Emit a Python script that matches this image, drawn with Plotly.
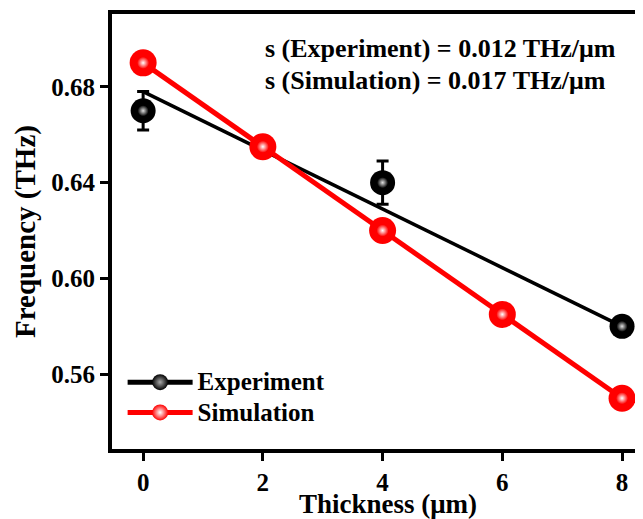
import plotly.graph_objects as go

# ---- data ----
exp_x = [0, 4, 8]
exp_y = [0.670, 0.640, 0.580]
exp_err = [0.008, 0.009, 0.002]

fit_x = [0, 8]
fit_y = [0.678, 0.580]

sim_x = [0, 2, 4, 6, 8]
sim_y = [0.690, 0.655, 0.620, 0.585, 0.550]

x_ticks = [0, 2, 4, 6, 8]
y_ticks = [0.56, 0.60, 0.64, 0.68]
y_ticklabels = ["0.56", "0.60", "0.64", "0.68"]

series_names = ["Experiment", "Simulation"]
x_title = "Thickness (μm)"
y_title = "Frequency (THz)"
ann1 = "s (Experiment) = 0.012 THz/μm"
ann2 = "s (Simulation) = 0.017 THz/μm"

FONT = "Liberation Serif, Times New Roman, serif"
RED = "#ff0000"


def big(txt, px=25):
    return "<span style='font-size:%dpx'>%s</span>" % (px, txt)


fig = go.Figure()

# experiment fit line
fig.add_trace(go.Scatter(x=fit_x, y=fit_y, mode="lines",
                         line=dict(color="black", width=3.5),
                         showlegend=False, hoverinfo="skip"))
# experiment markers with error bars
fig.add_trace(go.Scatter(x=exp_x, y=exp_y, mode="markers",
                         marker=dict(symbol="circle", size=25, color="black",
                                     line=dict(width=0)),
                         error_y=dict(type="data", array=exp_err, visible=True,
                                      color="black", thickness=3, width=6),
                         showlegend=False))
fig.add_trace(go.Scatter(x=exp_x, y=exp_y, mode="markers",
                         marker=dict(symbol="circle", size=11, color="black",
                                     gradient=dict(type="radial", color="#e0e0e0"),
                                     line=dict(width=0)),
                         showlegend=False, hoverinfo="skip"))
# simulation
fig.add_trace(go.Scatter(x=sim_x, y=sim_y, mode="lines+markers",
                         line=dict(color=RED, width=5),
                         marker=dict(symbol="circle", size=27, color=RED,
                                     line=dict(width=0)),
                         showlegend=False))
fig.add_trace(go.Scatter(x=sim_x, y=sim_y, mode="markers",
                         marker=dict(symbol="circle", size=12, color=RED,
                                     gradient=dict(type="radial", color="#ffffff"),
                                     line=dict(width=0)),
                         showlegend=False, hoverinfo="skip"))

# legend-only entries
fig.add_trace(go.Scatter(x=[None], y=[None], mode="lines+markers", name=big(series_names[0]),
                         line=dict(color="black", width=5),
                         marker=dict(symbol="circle", size=18, color="black",
                                     gradient=dict(type="radial", color="#aaaaaa"))))
fig.add_trace(go.Scatter(x=[None], y=[None], mode="lines+markers", name=big(series_names[1]),
                         line=dict(color=RED, width=5),
                         marker=dict(symbol="circle", size=18, color=RED,
                                     gradient=dict(type="radial", color="#ffffff"))))

fig.update_layout(
    width=635, height=511,
    margin=dict(l=104, r=0, t=6, b=70),
    paper_bgcolor="white", plot_bgcolor="white",
    font=dict(family=FONT, size=20, color="black", weight="bold"),
    showlegend=True,
    legend=dict(x=0.02, y=0.2, xanchor="left", yanchor="top",
                bgcolor="rgba(0,0,0,0)", tracegroupgap=0, itemwidth=65,
                font=dict(family=FONT, size=21, color="black", weight="bold")),
    annotations=[
        dict(text=ann1, xref="paper", yref="paper", x=0.285, y=0.92,
             xanchor="left", yanchor="middle", showarrow=False,
             font=dict(family=FONT, size=26, color="black", weight="bold")),
        dict(text=ann2, xref="paper", yref="paper", x=0.285, y=0.848,
             xanchor="left", yanchor="middle", showarrow=False,
             font=dict(family=FONT, size=26, color="black", weight="bold")),
        dict(text=x_title, xref="paper", yref="paper", x=0.52, y=0,
             xanchor="center", yanchor="top", yshift=-38, showarrow=False,
             font=dict(family=FONT, size=27, color="black", weight="bold")),
    ],
)

fig.update_xaxes(range=[-0.52, 8.35], tickvals=x_ticks,
                 showgrid=False, zeroline=False,
                 showline=True, linecolor="black", linewidth=4, mirror=True,
                 ticks="outside", ticklen=8, tickwidth=3, tickcolor="black",
                 tickfont=dict(family=FONT, size=25, color="black", weight="bold"))
fig.update_yaxes(range=[0.5288, 0.7104], tickvals=y_ticks, ticktext=y_ticklabels,
                 showgrid=False, zeroline=False,
                 showline=True, linecolor="black", linewidth=4, mirror=False,
                 ticks="outside", ticklen=8, tickwidth=3, tickcolor="black",
                 tickfont=dict(family=FONT, size=25, color="black", weight="bold"),
                 title=dict(text=y_title, standoff=8,
                            font=dict(family=FONT, size=29, color="black", weight="bold")))

fig.write_html("out.html")
